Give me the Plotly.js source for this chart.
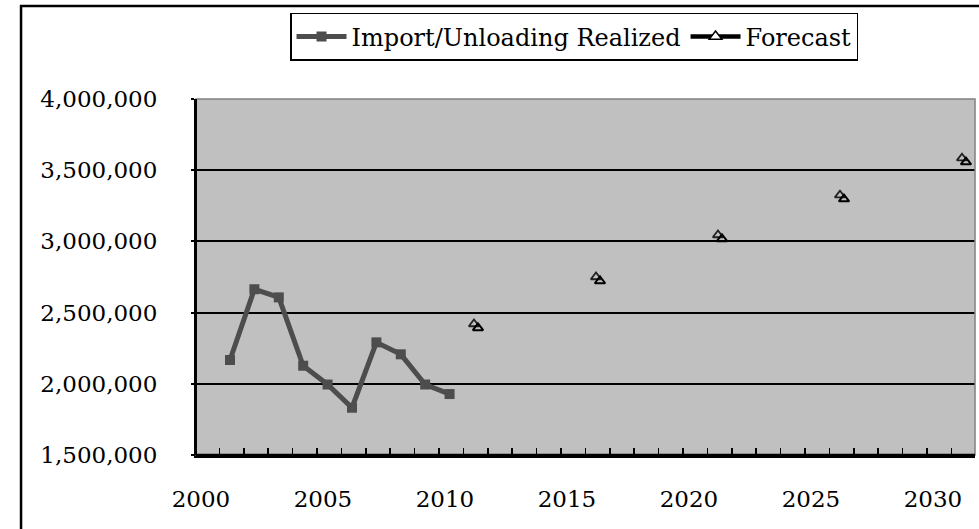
<!DOCTYPE html>
<html>
<head>
<meta charset="utf-8">
<script src="https://cdn.plot.ly/plotly-3.0.1.min.js"></script>
<style>html,body{margin:0;padding:0;background:#fff;}#chart{width:979px;height:529px;}</style>
</head>
<body>
<div id="chart"></div>
<script>
// ---- data ----
const realizedYears = [2001, 2002, 2003, 2004, 2005, 2006, 2007, 2008, 2009, 2010];
const realizedValues = [2167000, 2664000, 2607000, 2127000, 1995000, 1832000, 2291000, 2207000, 1995000, 1928000];
const forecastYears = [2011, 2016, 2021, 2026, 2031];
const forecastValues = [2420000, 2750000, 3045000, 3325000, 3585000];
const xTickYears = [2000, 2005, 2010, 2015, 2020, 2025, 2030];
const xTickLabels = ['2000', '2005', '2010', '2015', '2020', '2025', '2030'];
const yTickValues = [1500000, 2000000, 2500000, 3000000, 3500000, 4000000];
const yTickLabels = ['1,500,000', '2,000,000', '2,500,000', '3,000,000', '3,500,000', '4,000,000'];
const seriesNames = ['Import/Unloading Realized', 'Forecast'];

// ---- style ----
const FONT = 'DejaVu Serif';
const xRange = [1999.607, 2031.533];
const yRange = [1500000, 4000000];
const shadowDx = 0.164;   // years (~4px)
const shadowDy = 28000;   // value (~4px)

const traces = [
  {
    x: realizedYears, y: realizedValues, name: seriesNames[0],
    type: 'scatter', mode: 'lines+markers',
    line: {color: '#4d4d4d', width: 5},
    marker: {symbol: 'square', size: 10, color: '#4d4d4d'},
    hoverinfo: 'x+y'
  },
  {
    x: forecastYears, y: forecastValues, name: seriesNames[1],
    type: 'scatter', mode: 'markers', showlegend: false,
    xaxis: 'x2', yaxis: 'y2',
    marker: {symbol: 'triangle-up-open', size: 9, color: '#000', line: {width: 2, color: '#000'}}
  },
  {
    x: forecastYears, y: forecastValues, name: seriesNames[1],
    type: 'scatter', mode: 'markers', showlegend: false,
    marker: {symbol: 'triangle-up-open', size: 9, color: '#222', line: {width: 1.8, color: '#222'}}
  },
  {
    x: [null], y: [null], name: seriesNames[1],
    type: 'scatter', mode: 'lines+markers',
    line: {color: '#000', width: 4.5},
    marker: {symbol: 'triangle-up', size: 11, color: '#fff', line: {width: 1.5, color: '#000'}}
  }
];

const layout = {
  width: 979, height: 529,
  margin: {l: 196, r: 4, t: 99, b: 74},
  paper_bgcolor: '#ffffff',
  plot_bgcolor: '#c0c0c0',
  font: {family: FONT, size: 23, color: '#000'},
  showlegend: true,
  legend: {
    orientation: 'h',
    x: 0.1207, xanchor: 'left',
    y: 1.2416, yanchor: 'top',
    bgcolor: '#ffffff', bordercolor: '#000', borderwidth: 1.5,
    font: {family: FONT, size: 24, color: '#000'},
    itemwidth: 50,
    traceorder: 'normal'
  },
  xaxis: {
    range: xRange, fixedrange: true,
    tickmode: 'array', tickvals: xTickYears.map(v => v - 0.19), ticktext: xTickLabels,
    ticks: '', ticklabelstandoff: 22,
    showline: true, linecolor: '#000', linewidth: 2.5,
    showgrid: false, zeroline: false,
    tickfont: {family: FONT, size: 23, color: '#000'},
    minor: {tick0: 1999.566, dtick: 1, ticks: 'inside', ticklen: 7, tickwidth: 1.6, tickcolor: '#000', showgrid: false}
  },
  yaxis: {
    range: yRange, fixedrange: true,
    tickmode: 'array', tickvals: yTickValues, ticktext: yTickLabels,
    ticks: 'outside', ticklen: 3, tickwidth: 2, tickcolor: '#000',
    ticklabelstandoff: 29,
    showline: true, linecolor: '#000', linewidth: 2,
    showgrid: true, gridcolor: '#000', gridwidth: 2,
    zeroline: false,
    tickfont: {family: FONT, size: 23, color: '#000'}
  },
  xaxis2: {range: [xRange[0] - shadowDx, xRange[1] - shadowDx], overlaying: 'x', visible: false, fixedrange: true},
  yaxis2: {range: [yRange[0] + shadowDy, yRange[1] + shadowDy], overlaying: 'y', visible: false, fixedrange: true},
  shapes: [
    {type: 'rect', xref: 'paper', yref: 'paper', x0: 0, x1: 1, y0: 0, y1: 1,
     line: {color: '#808080', width: 1.5}, fillcolor: 'rgba(0,0,0,0)', layer: 'above'},
    {type: 'line', xref: 'paper', yref: 'paper', x0: 0, x1: 0, y0: 0, y1: 1,
     line: {color: '#000', width: 2}, layer: 'above'},
    {type: 'line', xref: 'paper', yref: 'paper', x0: 0, x1: 1, y0: 0, y1: 0,
     line: {color: '#000', width: 2.5}, layer: 'above'},
    {type: 'rect', xref: 'paper', yref: 'paper', x0: -0.2246, x1: 1.2, y0: -0.4, y1: 1.2612,
     line: {color: '#000', width: 2.5}, fillcolor: 'rgba(0,0,0,0)', layer: 'above'}
  ]
};

Plotly.newPlot('chart', traces, layout, {displayModeBar: false, staticPlot: true});
</script>
</body>
</html>
